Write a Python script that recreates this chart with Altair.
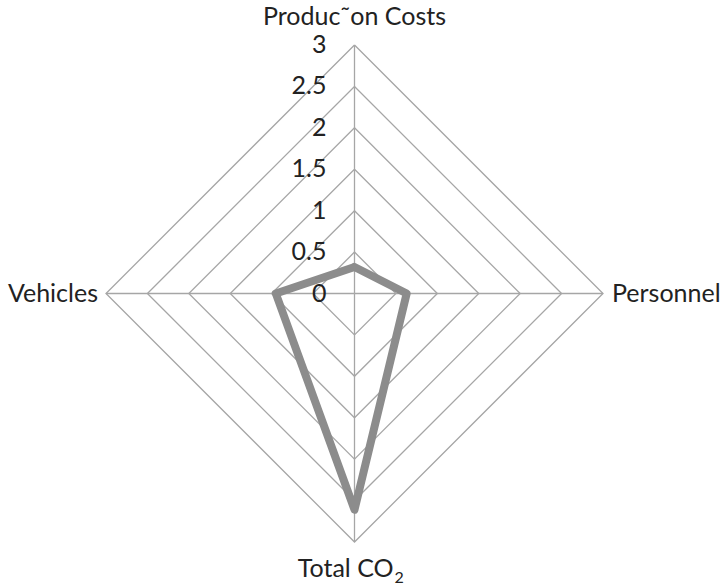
import math
import altair as alt
import pandas as pd

# Spoke categories, clockwise from the top, and the series value on each spoke
categories = ["Produc˜on Costs", "Personnel", "Total CO", "Vehicles"]
values = [0.32, 0.63, 2.61, 0.95]

# Radial scale: ring levels and their tick labels
levels = [0.5, 1.0, 1.5, 2.0, 2.5, 3.0]
tick_values = [0, 0.5, 1, 1.5, 2, 2.5, 3]
tick_labels = ["0", "0.5", "1", "1.5", "2", "2.5", "3"]
r_max = 3

FONT = "Lato"
FS = 25
INK = "#222222"
GRID = "#a6a6a6"
SERIES = "#8c8c8c"


def spoke_angle(i):
    # top spoke first, then clockwise
    return math.pi / 2 - i * 2 * math.pi / len(categories)


def polar(r, i):
    a = spoke_angle(i)
    return r * math.cos(a), r * math.sin(a)


# ring polygons (closed)
ring_rows = []
for lv in levels:
    for k in range(len(categories) + 1):
        x, y = polar(lv, k % len(categories))
        ring_rows.append({"level": lv, "k": k, "x": x, "y": y})
rings = pd.DataFrame(ring_rows)

# spokes from centre to outer ring
spoke_rows = []
for i, c in enumerate(categories):
    x, y = polar(r_max, i)
    spoke_rows.append({"cat": c, "x": 0.0, "y": 0.0, "x2": x, "y2": y})
spokes = pd.DataFrame(spoke_rows)

# series polygon (closed)
series_rows = []
for k in range(len(categories) + 1):
    i = k % len(categories)
    x, y = polar(values[i], i)
    series_rows.append({"k": k, "cat": categories[i], "value": values[i], "x": x, "y": y})
series = pd.DataFrame(series_rows)

ticks = pd.DataFrame({"r": tick_values, "label": tick_labels, "x": [0.0] * len(tick_values)})

xs = alt.Scale(domain=[-r_max, r_max], nice=False, zero=False)
ys = alt.Scale(domain=[-r_max, r_max], nice=False, zero=False)
X = lambda f: alt.X(f, type="quantitative", scale=xs, axis=None)
Y = lambda f: alt.Y(f, type="quantitative", scale=ys, axis=None)

ring_layer = alt.Chart(rings).mark_line(color=GRID, strokeWidth=1.3).encode(
    x=X("x"), y=Y("y"), detail="level:N", order="k:Q"
)

spoke_layer = alt.Chart(spokes).mark_rule(color=GRID, strokeWidth=1.3).encode(
    x=X("x"), y=Y("y"), x2="x2", y2="y2"
)

series_layer = alt.Chart(series).mark_line(
    color=SERIES, strokeWidth=8, strokeJoin="round", strokeCap="round"
).encode(x=X("x"), y=Y("y"), order="k:Q")

tick_layer = alt.Chart(ticks).mark_text(
    font=FONT, fontSize=FS, align="right", baseline="middle", dx=-28, color=INK
).encode(x=X("x"), y=Y("r"), text="label:N")

lab = pd.DataFrame({
    "cat": categories,
    "x": [polar(r_max, i)[0] for i in range(len(categories))],
    "y": [polar(r_max, i)[1] for i in range(len(categories))],
})


def cat_label(i, **kw):
    base = dict(font=FONT, fontSize=FS, color=INK)
    base.update(kw)
    return alt.Chart(lab.iloc[[i]]).mark_text(**base).encode(
        x=X("x"), y=Y("y"), text="cat:N"
    )


top_label = cat_label(0, align="center", baseline="alphabetic", dy=-20)
right_label = cat_label(1, align="left", baseline="middle", dx=9)
bottom_label = cat_label(2, align="right", baseline="alphabetic", dx=39, dy=35)
left_label = cat_label(3, align="right", baseline="middle", dx=-8)

# subscript of CO2
sub = pd.DataFrame({"t": ["2"], "x": [lab.x[2]], "y": [lab.y[2]]})
sub_label = alt.Chart(sub).mark_text(
    font=FONT, fontSize=16, color=INK, align="left", baseline="alphabetic", dx=40, dy=41
).encode(x=X("x"), y=Y("y"), text="t:N")

chart = alt.layer(
    ring_layer, spoke_layer, series_layer, tick_layer,
    top_label, right_label, bottom_label, left_label, sub_label,
).properties(
    width=497, height=497,
    background="white",
    autosize=alt.AutoSizeParams(type="none"),
    padding={"left": 106, "top": 45, "right": 119, "bottom": 43},
).configure_view(stroke=None)

chart.save("out.html", embed_options={"renderer": "svg", "actions": False})
